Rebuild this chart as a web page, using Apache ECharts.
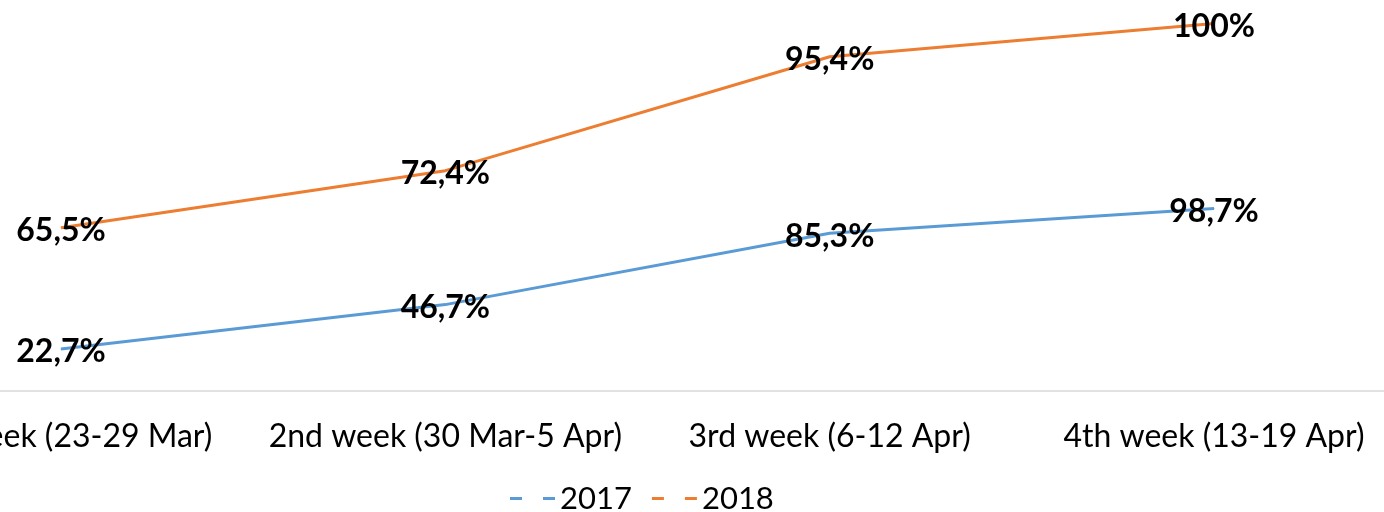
<!DOCTYPE html>
<html>
<head>
<meta charset="utf-8">
<script src="https://cdn.jsdelivr.net/npm/echarts@6/dist/echarts.min.js"></script>
<style>
html,body{margin:0;padding:0;background:#fff;}
#main{width:1384px;height:512px;}
</style>
</head>
<body>
<div id="main"></div>
<script>
const categories = ['1st week (23-29 Mar)', '2nd week (30 Mar-5 Apr)', '3rd week (6-12 Apr)', '4th week (13-19 Apr)'];
const series2017 = [22.7, 46.7, 85.3, 98.7];
const series2018 = [65.5, 72.4, 95.4, 100];
const seriesNames = ['2017', '2018'];

const FONT = 'Lato';
function fmt(v) { return String(v).replace('.', ',') + '%'; }

const chart = echarts.init(document.getElementById('main'), null, {renderer: 'canvas'});
const labelCfg = {
  show: true,
  position: 'inside',
  offset: [0, 3],
  fontFamily: FONT,
  fontWeight: 'bold',
  fontSize: 32,
  color: '#000',
  formatter: p => fmt(p.value)
};
chart.setOption({
  animation: false,
  grid: [
    {left: 61, right: 170, top: 21, bottom: 121, containLabel: false, outerBoundsMode: 'none'},
    {left: 0, right: 0, top: 21, bottom: 121, containLabel: false, outerBoundsMode: 'none'}
  ],
  legend: {
    data: seriesNames,
    top: 478,
    left: 505,
    itemGap: 20,
    itemWidth: 45,
    itemHeight: 3,
    icon: 'path://M0,0h12v3h-12zM33,0h12v3h-12z',
    textStyle: {fontFamily: FONT, fontSize: 31, color: '#000'}
  },
  xAxis: [
    {
      type: 'category',
      gridIndex: 0,
      data: categories,
      boundaryGap: false,
      axisLine: {show: false},
      axisTick: {show: false},
      axisLabel: {fontFamily: FONT, fontSize: 32, color: '#000', margin: 30, interval: 0, hideOverlap: false}
    },
    {
      type: 'category',
      gridIndex: 1,
      data: categories,
      axisLine: {lineStyle: {color: '#d9d9d9', width: 1.5}},
      axisTick: {show: false},
      axisLabel: {show: false}
    }
  ],
  yAxis: [
    {type: 'value', gridIndex: 0, min: 0, max: 200, show: false, splitLine: {show: false}},
    {type: 'value', gridIndex: 1, min: 0, max: 200, show: false, splitLine: {show: false}}
  ],
  series: [
    {
      name: seriesNames[0], type: 'line', stack: 'total', data: series2017,
      symbol: 'circle', symbolSize: 1, showSymbol: true,
      lineStyle: {color: '#5B9BD5', width: 3}, itemStyle: {color: '#5B9BD5'},
      label: labelCfg, emphasis: {disabled: true}
    },
    {
      name: seriesNames[1], type: 'line', stack: 'total', data: series2018,
      symbol: 'circle', symbolSize: 1, showSymbol: true,
      lineStyle: {color: '#ED7D31', width: 3}, itemStyle: {color: '#ED7D31'},
      label: labelCfg, emphasis: {disabled: true}
    }
  ]
});
</script>
</body>
</html>
